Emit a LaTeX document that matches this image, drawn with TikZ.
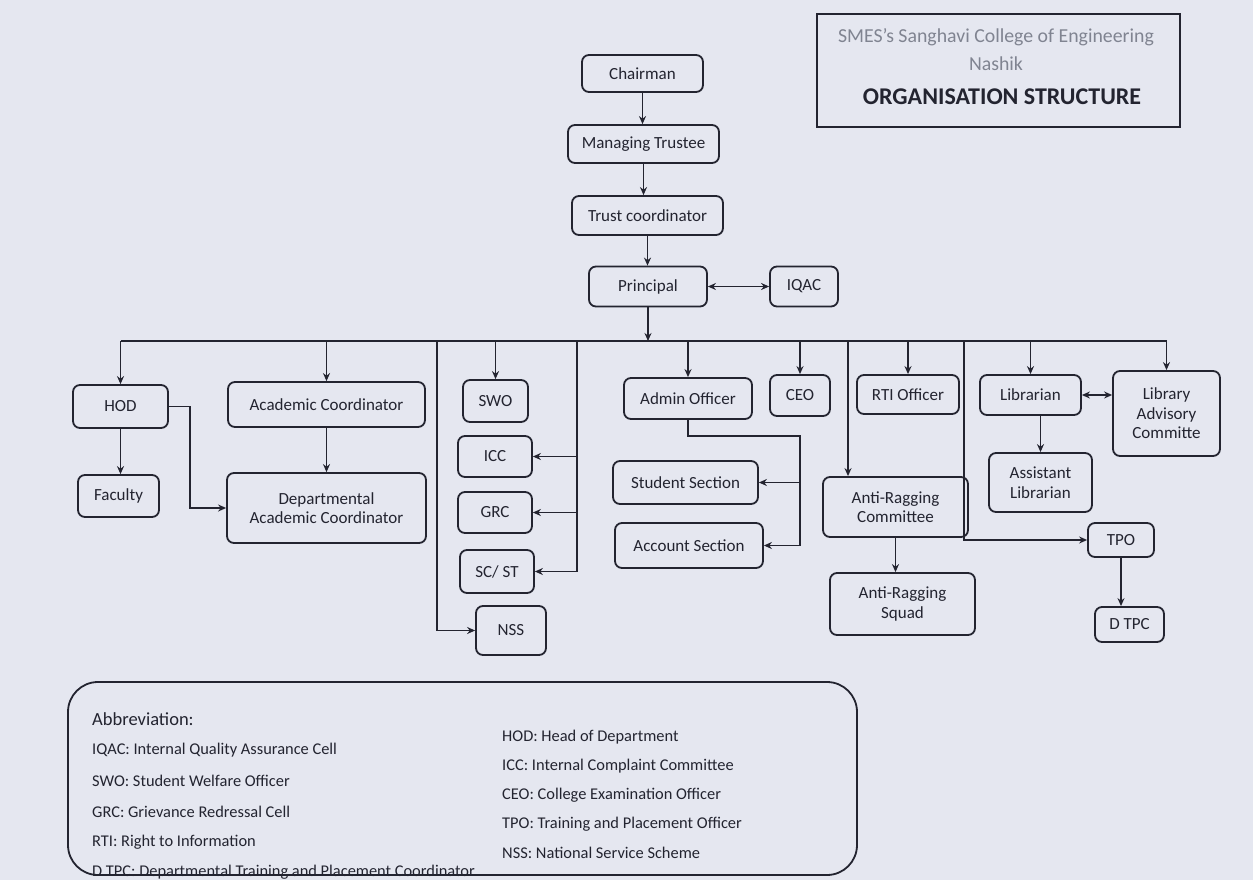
\documentclass[tikz,border=0pt]{standalone}
\usepackage{fontspec}
\setmainfont{Carlito}
\usetikzlibrary{arrows.meta,calc}
\definecolor{bg}{RGB}{229,231,240}
\definecolor{ink}{RGB}{35,36,48}
\definecolor{greytxt}{RGB}{128,132,145}
\tikzset{
  box/.style={draw=ink, line width=1.8pt, rounded corners=7pt, align=center,
    inner sep=1pt, text=ink, font=\fontsize{17}{19.5}\selectfont},
  conn/.style={draw=ink, line width=1.3pt, -{Stealth[length=8pt,width=7pt]}},
  biconn/.style={draw=ink, line width=1.3pt, {Stealth[length=8pt,width=7pt]}-{Stealth[length=8pt,width=7pt]}},
  bus/.style={draw=ink, line width=1.3pt},
  abbr/.style={anchor=west, text=ink, inner sep=0pt, font=\fontsize{16.4}{19}\selectfont},
}
\begin{document}
\begin{tikzpicture}[x=1pt,y=-1pt]
\useasboundingbox (0,0) rectangle (1253,880);
\fill[bg] (0,0) rectangle (1253,880);

% title
\node[draw=ink, line width=1.5pt, minimum width=363pt, minimum height=113pt, inner sep=0pt] (titlebox) at (998.5,70.5) {};
\node[text=greytxt, font=\fontsize{19.8}{22}\selectfont] (t1) at (996,37) {SMES’s Sanghavi College of Engineering};
\node[text=greytxt, font=\fontsize{19.8}{22}\selectfont] (t2) at (996,64) {Nashik};
\node[text=ink, font=\bfseries\fontsize{24}{27}\selectfont] (t3) at (1002,97) {ORGANISATION STRUCTURE};

% top chain
\node[box, minimum width=121pt, minimum height=37pt] (chair) at (642.5,73.5) {Chairman};
\node[box, minimum width=151pt, minimum height=38pt] (mt) at (643.5,144) {Managing Trustee};
\node[box, minimum width=151pt, minimum height=39pt] (tc) at (647.5,215.5) {Trust coordinator};
\node[box, minimum width=118pt, minimum height=40pt] (prin) at (648,286.5) {Principal};
\node[box, minimum width=68pt, minimum height=40pt] (iqac) at (804,286.5) {IQAC};

% second level
\node[box, minimum width=95pt, minimum height=43pt] (hod) at (120.5,406.5) {HOD};
\node[box, minimum width=197pt, minimum height=45pt] (acad) at (326.5,404.5) {Academic Coordinator};
\node[box, minimum width=81pt, minimum height=42pt] (fac) at (118.5,496) {Faculty};
\node[box, minimum width=199pt, minimum height=70pt] (dac) at (326.5,508) {Departmental\\Academic Coordinator};
\node[box, minimum width=65pt, minimum height=42pt] (swo) at (495.5,401) {SWO};
\node[box, minimum width=74pt, minimum height=41pt] (icc) at (495,456.5) {ICC};
\node[box, minimum width=74pt, minimum height=41pt] (grc) at (495,512.5) {GRC};
\node[box, minimum width=74pt, minimum height=43pt] (scst) at (497,571.5) {SC/ ST};
\node[box, minimum width=70pt, minimum height=49pt] (nss) at (511,630.5) {NSS};
\node[box, minimum width=128pt, minimum height=41pt] (admin) at (688,398.5) {Admin Officer};
\node[box, minimum width=60pt, minimum height=41pt] (ceo) at (800,395.5) {CEO};
\node[box, minimum width=145pt, minimum height=43pt] (stud) at (685.5,482.5) {Student Section};
\node[box, minimum width=148pt, minimum height=45pt] (acct) at (689,545.5) {Account Section};
\node[box, minimum width=102pt, minimum height=39pt] (rti) at (908,394.5) {RTI Officer};
\node[box, minimum width=145pt, minimum height=60pt] (arc) at (895.5,507) {Anti-Ragging\\Committee};
\node[box, minimum width=145pt, minimum height=62pt] (ars) at (902.5,604) {Anti-Ragging\\Squad};
\node[box, minimum width=101pt, minimum height=40pt] (lib) at (1030.5,395) {Librarian};
\node[box, minimum width=107pt, minimum height=85pt] (lac) at (1166.5,413.5) {Library\\Advisory\\Committe};
\node[box, minimum width=103pt, minimum height=59pt] (asst) at (1040.5,482.5) {Assistant\\Librarian};
\node[box, minimum width=66pt, minimum height=34pt] (tpo) at (1121,540) {TPO};
\node[box, minimum width=69pt, minimum height=35pt] (dtpc) at (1129.5,624.5) {D TPC};

% coordinates
\coordinate (busy) at (0,341);
\coordinate (v1) at (437,341);
\coordinate (v2) at (577,341);
\coordinate (v3) at (848,341);
\coordinate (v4) at (964,341);
\coordinate (aj) at (800,436);
\coordinate (hj) at (190,0);

% top connectors
\draw[conn] (chair.south) -- (chair.south |- mt.north);
\draw[conn] (mt.south) -- (mt.south |- tc.north);
\draw[conn] (tc.south) -- (tc.south |- prin.north);
\draw[biconn] (prin.east) -- (iqac.west);
\draw[conn] (prin.south) -- (prin.south |- busy);

% bus
\draw[bus] (hod.north |- busy) -- (lac.north |- busy);

\draw[conn] (hod.north |- busy) -- (hod.north);
\draw[conn] (acad.north |- busy) -- (acad.north);
\draw[conn] (swo.north |- busy) -- (swo.north);
\draw[conn] (admin.north |- busy) -- (admin.north);
\draw[conn] (ceo.north |- busy) -- (ceo.north);
\draw[conn] (rti.north |- busy) -- (rti.north);
\draw[conn] (lib.north |- busy) -- (lib.north);
\draw[conn] (lac.north |- busy) -- (lac.north);

% HOD branch
\draw[conn] (hod.south) -- (hod.south |- fac.north);
\draw[conn] (hod.east) -- (hod.east -| hj) |- (dac.west);
\draw[conn] (acad.south) -- (dac.north);

% left verticals
\draw[conn] (v1) |- (nss.west);
\draw[conn] (v2) |- (scst.east);
\draw[conn] (icc.east -| v2) -- (icc.east);
\draw[conn] (grc.east -| v2) -- (grc.east);

% admin
\draw[conn] (admin.south) |- (aj) |- (acct.east);
\draw[conn] (stud.east -| aj) -- (stud.east);

% anti ragging
\draw[conn] (v3) -- (v3 |- arc.north);
\draw[conn] (arc.south) -- (arc.south |- ars.north);

% library / tpo
\draw[conn] (v4) |- (tpo.west);
\draw[biconn] (lib.east) -- (lib.east -| lac.west);
\draw[conn] (asst.north |- lib.south) -- (asst.north);
\draw[conn] (tpo.south) -- (tpo.south |- dtpc.north);

% abbreviation box
\draw[draw=ink, line width=1.8pt, rounded corners=30pt] (68,682) rectangle (857,875);
\node[abbr, font=\fontsize{18.5}{21}\selectfont] (ab) at (92,719) {Abbreviation:};
\node[abbr] (a1) at (92,750) {IQAC: Internal Quality Assurance Cell};
\node[abbr] (a2) at (92,781) {SWO: Student Welfare Officer};
\node[abbr] (a3) at (92,812) {GRC: Grievance Redressal Cell};
\node[abbr] (a4) at (92,842) {RTI: Right to Information};
\node[abbr] (a5) at (92,872) {D TPC: Departmental Training and Placement Coordinator};
\node[abbr] (b1) at (502,737) {HOD: Head of Department};
\node[abbr] (b2) at (502,766) {ICC: Internal Complaint Committee};
\node[abbr] (b3) at (502,795) {CEO: College Examination Officer};
\node[abbr] (b4) at (502,824) {TPO: Training and Placement Officer};
\node[abbr] (b5) at (502,853) {NSS: National Service Scheme};
\end{tikzpicture}
\end{document}
